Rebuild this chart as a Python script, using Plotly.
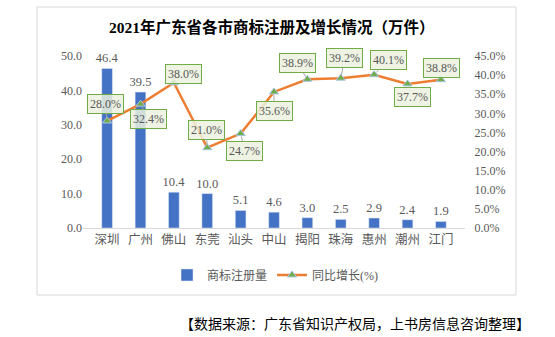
import plotly.graph_objects as go

cities = ["深圳", "广州", "佛山", "东莞", "汕头", "中山", "揭阳", "珠海", "惠州", "潮州", "江门"]
registrations = [46.4, 39.5, 10.4, 10.0, 5.1, 4.6, 3.0, 2.5, 2.9, 2.4, 1.9]
growth = [28.0, 32.4, 38.0, 21.0, 24.7, 35.6, 38.9, 39.2, 40.1, 37.7, 38.8]

title_text = "2021年广东省各市商标注册及增长情况（万件）"
source_text = "【数据来源：广东省知识产权局，上书房信息咨询整理】"

# label offsets (pixels) for the growth data labels
label_offsets = [(-2, -17), (8, 15), (10, -9), (-1, -18), (4, 17), (0, 19),
                 (-10, -16), (4, -20), (14, -15), (5, 13), (1, -12)]

FONT = "Liberation Serif, Noto Sans CJK SC, serif"
GRAY = "#595959"

fig = go.Figure()
fig.add_trace(go.Bar(
    x=cities, y=registrations, name="商标注册量",
    marker_color="#4472C4", width=0.32,
    texttemplate="%{y:.1f}", textposition="outside", constraintext="none",
    textfont=dict(family=FONT, size=12.5, color=GRAY),
    cliponaxis=False,
))
fig.add_trace(go.Scatter(
    x=cities, y=growth, name="同比增长(%)", yaxis="y2",
    mode="lines+markers",
    line=dict(color="#ED7D31", width=2.5),
    marker=dict(symbol="triangle-up", size=8, color="#70AD47",
                line=dict(color="#A9C4E8", width=1)),
    cliponaxis=False,
))

annotations = []
for c, g, (ax, ay) in zip(cities, growth, label_offsets):
    annotations.append(dict(
        x=c, y=g, xref="x", yref="y2", text=f"{g:.1f}%",
        showarrow=True, arrowhead=0, arrowwidth=1, arrowcolor="#A6A6A6",
        ax=ax, ay=ay, standoff=3,
        font=dict(family=FONT, size=12, color=GRAY),
        bordercolor="#70AD47", borderwidth=1, borderpad=2,
        bgcolor="rgba(235,241,222,0.85)",
    ))

annotations.append(dict(
    x=0.4948, y=1.1686, xref="paper", yref="paper", showarrow=False,
    text="<b>" + title_text + "</b>", xanchor="center", yanchor="middle",
    font=dict(family=FONT, size=15.5, color="#000000"),
))
annotations.append(dict(
    x=0.712, y=-0.552, xref="paper", yref="paper", showarrow=False,
    text=source_text, xanchor="center", yanchor="middle",
    font=dict(family="Noto Sans CJK SC", size=14, color="#000000"),
))

fig.update_layout(
    width=555, height=337,
    margin=dict(l=83, r=90, t=56, b=109),
    paper_bgcolor="white", plot_bgcolor="white",
    showlegend=True,
    legend=dict(orientation="h", x=0.504, y=-0.273, xanchor="center", yanchor="middle",
                font=dict(family=FONT, size=12, color=GRAY), itemwidth=30),
    xaxis=dict(showline=True, linecolor="#D9D9D9", linewidth=1, ticks="",
               tickfont=dict(family=FONT, size=12.5, color=GRAY), showgrid=False),
    yaxis=dict(range=[0, 50], dtick=10, tickformat=".1f", showgrid=False, zeroline=False,
               tickfont=dict(family=FONT, size=12, color=GRAY), ticks="", ticklen=8,
               tickcolor="white"),
    yaxis2=dict(range=[0, 45], dtick=5, tickformat=".1f", ticksuffix="%", overlaying="y",
                side="right", showgrid=False, zeroline=False,
                tickfont=dict(family=FONT, size=12, color=GRAY), ticks="outside",
                ticklen=6, tickcolor="white"),
    annotations=annotations,
    shapes=[dict(type="rect", xref="paper", yref="paper",
                 x0=-0.1204, x1=1.1335, y0=-0.3895, y1=1.285,
                 line=dict(color="#D9D9D9", width=1), layer="below")],
)

fig.write_html("out.html")
